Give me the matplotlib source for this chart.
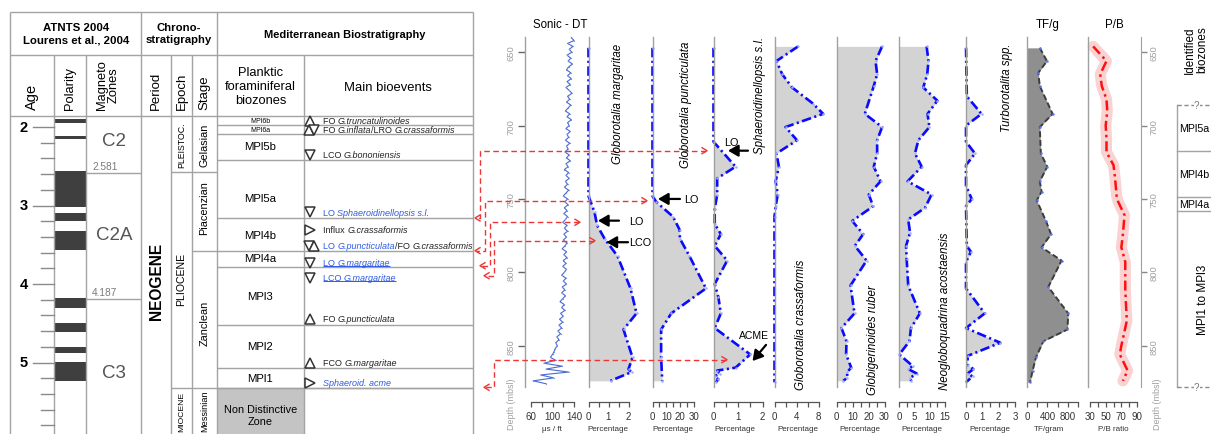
import matplotlib
matplotlib.use("Agg")
import matplotlib.pyplot as plt
from matplotlib.patches import Rectangle

plt.rcParams['font.family'] = ['Liberation Sans', 'DejaVu Sans']

# ------------------------------------------------------------------ data
age_ticks = [2.0, 2.2, 2.4, 2.6, 2.8, 3.0, 3.2, 3.4, 3.6, 3.8, 4.0, 4.2, 4.4,
             4.6, 4.8, 5.0, 5.2, 5.4, 5.6, 5.8]
age_labels = [2, 3, 4, 5]
polarity_normal = [(1.90, 1.945), (2.11, 2.153), (2.557, 3.015), (3.10, 3.194),
                   (3.329, 3.563), (4.178, 4.306), (4.497, 4.608), (4.799, 4.879),
                   (4.997, 5.232)]
chron_bounds = [2.581, 4.187]
chron_names = ['C2', 'C2A', 'C3']

biozones = ['MPl6b', 'MPl6a', 'MPl5b', 'MPl5a', 'MPl4b', 'MPl4a', 'MPl3', 'MPl2', 'MPl1']

sonic_depth = list(range(640, 877, 2))
sonic_dt = [135, 140, 128, 138, 131, 136, 127, 134, 129, 137,
            130, 126, 134, 128, 135, 127, 133, 125, 131, 136,
            128, 132, 126, 134, 129, 124, 132, 127, 135, 128,
            131, 125, 133, 127, 130, 124, 132, 126, 129, 123,
            131, 126, 133, 125, 129, 122, 130, 125, 131, 124,
            128, 122, 130, 125, 120, 128, 123, 129, 122, 127,
            121, 128, 124, 119, 127, 122, 128, 121, 126, 120,
            127, 123, 118, 126, 121, 127, 120, 125, 119, 126,
            122, 117, 125, 120, 126, 118, 123, 117, 124, 119,
            114, 122, 117, 123, 115, 120, 113, 119, 112, 117,
            110, 115, 108, 112, 106, 109, 105, 103, 100, 96,
            106, 84, 118, 88, 130, 78, 102, 64, 88]

marg_depth = [647, 748, 759, 768, 777, 789, 811, 828, 839, 858, 866, 868, 874]
marg_pct = [0, 0, 0.3, 0.43, 0.8, 1.45, 2.1, 2.4, 1.75, 2.2, 2.0, 2.15, 1.1]

punct_depth = [647, 748, 752, 762, 771, 777, 789, 811, 828, 839, 858, 874]
punct_pct = [0, 0, 2.7, 14.9, 19.8, 20, 27, 39, 13.7, 6.3, 6.3, 7.1]

sphaer_depth = [647, 711, 728, 736, 747, 757, 767, 774, 782, 792, 808, 817, 828,
                838, 856, 865, 867, 869, 871, 873, 875]
sphaer_pct = [0, 0, 0.9, 0.15, 0.15, 0.05, 0.05, 0.3, 0.05, 0.56, 0.05, 0.2, 0.3,
              0.05, 1.5, 0.9, 0.15, 0.25, 0.05, 0.2, 0.1]

crass_depth = [646, 656, 665, 674, 685, 692, 701, 710, 719, 728, 738, 747, 755, 762, 875]
crass_pct = [4.3, 0.36, 1.4, 3.2, 7.0, 8.85, 2.0, 4.1, 0.36, 0.8, 0.2, 0.6, 0.2, 0, 0]

ruber_depth = [646, 656, 665, 673, 692, 701, 710, 719, 728, 738, 747, 755, 765, 774,
               782, 792, 809, 828, 838, 847, 856, 865, 868, 872, 874]
ruber_pct = [28.5, 24.4, 25.4, 23.3, 17.7, 28.5, 25.4, 25.4, 23.3, 27.5, 20.2, 22.9,
             9.8, 16.7, 11.5, 18.8, 8.75, 11.25, 3.1, 6.25, 6.0, 9.2, 6.7, 6.7, 4.2]

acost_depth = [646, 656, 665, 674, 683, 692, 701, 710, 719, 728, 738, 747, 756, 764,
               773, 782, 791, 809, 828, 838, 847, 856, 864, 866, 869, 872, 874]
acost_pct = [9.0, 9.6, 9.2, 7.9, 12.5, 9.3, 9.9, 6.3, 5.2, 7.4, 2.8, 10.6, 8.5, 3.0,
             3.6, 2.3, 2.5, 3.0, 6.8, 3.9, 3.4, 0.1, 4.5, 3.0, 5.8, 3.6, 4.0]

turbo_depth = [647, 680, 692, 700, 711, 719, 727, 741, 750, 755, 782, 786, 793, 811,
               828, 838, 848, 857, 863, 866, 869, 871, 875]
turbo_pct = [0, 0.05, 0.95, 0, 0, 0.55, 0, 0, 0.35, 0, 0.05, 0.3, 0, 0,
             1.15, 0, 2.1, 0.1, 0.1, 0.45, 0.1, 0.4, 0]

tf_depth = [647, 656, 664, 673, 692, 701, 719, 728, 738, 745, 751, 765, 774, 783,
            792, 810, 828, 839, 847, 858, 867, 875]
tf_gram = [250, 390, 220, 250, 500, 250, 270, 395, 250, 285, 190, 370, 470, 285,
           675, 415, 805, 790, 320, 175, 110, 60]

pb_depth = [646, 656, 665, 673, 682, 690, 700, 709, 718, 727, 736, 748, 752, 761,
            774, 783, 793, 811, 823, 833, 850, 856, 867, 874]
pb_ratio = [34, 51, 43, 45, 51, 52, 50, 51, 51, 60, 62, 64, 66, 74, 72, 70, 75, 75,
            76, 77, 70, 68, 78, 72]

ident_bounds = [686, 717, 749, 758, 878]
ident_names = ['MPl5a', 'MPl4b', 'MPl4a', 'MPl1 to MPl3']

# -------------------------------------------------------------- geometry
W, H = 1211, 435
TOP, BOT = 38, 388
D_TOP, D_BOT = 639.6, 878.2
GRID = '#a3a3a3'
BLUE_TXT = '#2d5be3'


def age_y(a):
    return 128 + (a - 2.0) * 78.5


def dpx(d):
    return TOP + (d - D_TOP) * (BOT - TOP) / (D_BOT - D_TOP)


fig = plt.figure(figsize=(W / 100, H / 100), dpi=100)
bg = fig.add_axes([0, 0, 1, 1], zorder=0)
bg.set_xlim(0, W)
bg.set_ylim(H, 0)
bg.axis('off')


def hl(y, x0, x1, **kw):
    bg.plot([x0, x1], [y, y], color=kw.get('c', GRID), lw=kw.get('lw', 1),
            ls=kw.get('ls', '-'), solid_capstyle='butt')


def vl(x, y0, y1, **kw):
    bg.plot([x, x], [y0, y1], color=kw.get('c', GRID), lw=kw.get('lw', 1),
            solid_capstyle='butt')


# ------------------------------------------------------------------ table
hl(13, 10, 473)
hl(56, 10, 473)
hl(117, 10, 473)
for x in (10, 141, 217, 473):
    vl(x, 13, 435)
for x in (54, 86, 171, 192, 304):
    vl(x, 56, 435)

bg.text(76, 34, 'ATNTS 2004\nLourens et al., 2004', ha='center', va='center',
        fontsize=8.2, fontweight='bold', linespacing=1.35)
bg.text(179, 34, 'Chrono-\nstratigraphy', ha='center', va='center',
        fontsize=8.2, fontweight='bold', linespacing=1.35)
bg.text(345, 35, 'Mediterranean Biostratigraphy', ha='center', va='center',
        fontsize=7.9, fontweight='bold')

bg.text(32, 110, 'Age', rotation=90, ha='center', va='bottom', fontsize=10.5)
bg.text(70, 110, 'Polarity', rotation=90, ha='center', va='bottom', fontsize=9.3)
bg.text(108, 110, 'Magneto\nZones', rotation=90, ha='center', va='bottom',
        fontsize=9.3, linespacing=0.95)
bg.text(156, 110, 'Period', rotation=90, ha='center', va='bottom', fontsize=9.5)
bg.text(181.5, 110, 'Epoch', rotation=90, ha='center', va='bottom', fontsize=9.5)
bg.text(204.5, 110, 'Stage', rotation=90, ha='center', va='bottom', fontsize=9.5)
bg.text(260.5, 87, 'Planktic\nforaminiferal\nbiozones', ha='center', va='center',
        fontsize=9.3, linespacing=1.2)
bg.text(388, 88, 'Main bioevents', ha='center', va='center', fontsize=9.4)

# age scale
for a in age_ticks:
    major = abs(a - round(a)) < 1e-6
    bg.plot([33 if major else 41, 54], [age_y(a)] * 2, color='#8a8a8a', lw=1)
for a in age_labels:
    bg.text(24, age_y(a), str(a), ha='center', va='center', fontsize=10.5,
            fontweight='bold')

# polarity
for top, base in polarity_normal:
    y0 = max(age_y(top), 117)
    bg.add_patch(Rectangle((54, y0), 32, age_y(base) - y0, color='#3f3f3f', lw=0))

# magnetozones
for b in chron_bounds:
    hl(age_y(b), 86, 141)
    bg.text(92, age_y(b) - 2, f'{b:.3f}', ha='left', va='bottom', fontsize=7.3,
            color='#7a7a7a')
for name, y in zip(chron_names, (142, 236, 374)):
    bg.text(114, y, name, ha='center', va='center', fontsize=13.5, color='#555555')

# period / epoch / stage
bg.text(156, 281, 'NEOGENE', rotation=90, ha='center', va='center', fontsize=11.2,
        fontweight='bold')
hl(173, 171, 217)
hl(389, 171, 473)
hl(252, 192, 217)
bg.text(181.5, 145, 'PLEISTOC.', rotation=90, ha='center', va='center', fontsize=6.3)
bg.text(181.5, 279, 'PLIOCENE', rotation=90, ha='center', va='center', fontsize=7.6)
bg.text(181.5, 411.5, 'MIOCENE', rotation=90, ha='center', va='center', fontsize=6.1)
bg.text(204.5, 145, 'Gelasian', rotation=90, ha='center', va='center', fontsize=7.8)
bg.text(204.5, 208, 'Piacenzian', rotation=90, ha='center', va='center', fontsize=7.8)
bg.text(204.5, 323, 'Zanclean', rotation=90, ha='center', va='center', fontsize=7.8)
bg.text(204.5, 411.5, 'Messinian', rotation=90, ha='center', va='center', fontsize=6.6)

# biozones
zone_lines = [125.7, 135, 160.7, 219.3, 251.7, 268.3, 326, 369.3, 389.3]
for y in zone_lines:
    hl(y, 217, 473)
zone_centres = [121.5, 130.4, 147, 199.5, 236.5, 259.5, 297, 347, 379]
for name, y in zip(biozones, zone_centres):
    small = name in ('MPl6b', 'MPl6a')
    bg.text(260.5, y, name, ha='center', va='center',
            fontsize=5.0 if small else 8.2)
bg.add_patch(Rectangle((217, 389.3), 87, 46, color='#c4c4c4', lw=0, zorder=0.5))
bg.text(260.5, 416, 'Non Distinctive\nZone', ha='center', va='center', fontsize=7.8,
        linespacing=1.25)

# bioevents
renderer = fig.canvas.get_renderer()
K = '#222222'
events = [
    (121.7, [('^', 310)], [('FO ', 'normal', K), ('G.truncatulinoides', 'italic', K)]),
    (130.7, [('^', 308.5), ('v', 314)], [('FO ', 'normal', K), ('G.inflata', 'italic', K),
                                         ('/LRO ', 'normal', K), ('G.crassaformis', 'italic', K)]),
    (155.7, [('v', 310)], [('LCO ', 'normal', K), ('G.bononiensis', 'italic', K)]),
    (213.3, [('v', 310)], [('LO ', 'normal', BLUE_TXT),
                           ('Sphaeroidinellopsis s.l.', 'italic', BLUE_TXT)]),
    (231.0, [('>', 310)], [('Influx ', 'normal', K), ('G.crassaformis', 'italic', K)]),
    (246.7, [('v', 309), ('^', 314)], [('LO ', 'normal', BLUE_TXT),
                                       ('G.puncticulata', 'italic', BLUE_TXT),
                                       ('/FO ', 'normal', K), ('G.crassaformis', 'italic', K)]),
    (264.0, [('v', 310)], [('LO ', 'normal', BLUE_TXT), ('G.margaritae', 'italic', BLUE_TXT)]),
    (279.0, [('v', 310)], [('LCO ', 'normal', BLUE_TXT), ('G.margaritae', 'italic', BLUE_TXT)]),
    (320.0, [('^', 310)], [('FO ', 'normal', K), ('G.puncticulata', 'italic', K)]),
    (364.0, [('^', 310)], [('FCO ', 'normal', K), ('G.margaritae', 'italic', K)]),
    (384.0, [('>', 310)], [('Sphaeroid. acme', 'italic', BLUE_TXT)]),
]
for y, marks, pieces in events:
    for m, x in marks:
        bg.plot([x], [y], marker=m, ms=6.5, mfc='white', mec='#333333', mew=1.1)
    x = 323
    x_start = x
    for txt, style, col in pieces:
        t = bg.text(x, y, txt, fontsize=6.5, style=style, color=col, ha='left',
                    va='center')
        bb = t.get_window_extent(renderer=renderer)
        x += bb.width
    if y in (264.0, 279.0):
        hl(y + 3.3, x_start, x, c=BLUE_TXT, lw=0.7)


# --------------------------------------------------------------- panels
def make_panel(x0, w, v0, ppu, ticks, labels):
    ax = fig.add_axes([x0 / W, 1 - BOT / H, w / W, (BOT - TOP) / H], zorder=2)
    ax.set_ylim(D_BOT, D_TOP)
    ax.set_xlim(v0, v0 + w / ppu)
    ax.patch.set_visible(False)
    ax.spines['top'].set_visible(False)
    ax.spines['right'].set_visible(False)
    ax.spines['left'].set_color('#a0a0a0')
    ax.spines['left'].set_linewidth(1.0)
    ax.spines['bottom'].set_position(('outward', 11))
    ax.spines['bottom'].set_bounds(ticks[0], ticks[-1])
    ax.spines['bottom'].set_color('#555555')
    ax.spines['bottom'].set_linewidth(0.9)
    ax.set_xticks(ticks)
    ax.set_xticklabels(labels)
    ax.tick_params(axis='x', direction='out', length=3.5, width=0.9, color='#555555',
                   labelsize=7, labelcolor='#333333', pad=3)
    ax.set_yticks([])
    return ax


FILL = '#d3d3d3'
DASHDOT = (0, (3.6, 1.3, 0.8, 1.3))


def foram(ax, depth, vals):
    ax.fill_betweenx(depth, 0, vals, color=FILL, lw=0)
    ax.plot(vals, depth, color='#0a0aff', lw=1.9, ls=DASHDOT, marker='o', ms=1.8,
            mfc='#9db0ff', mec='none', clip_on=False)


ax_s = make_panel(525, 60, 48.8, 0.5375, [60, 80, 100, 120, 140],
                  ['60', '', '100', '', '140'])
ax_s.plot(sonic_dt, sonic_depth, color='#4a6ad0', lw=0.8, marker='o', ms=0.9,
          mfc='#7f96e0', mec='none', clip_on=False)
ax_s.set_yticks([650, 700, 750, 800, 850])
ax_s.tick_params(axis='y', length=5, width=1, color='#666666', labelsize=6.8,
                 labelcolor='#a0a0a0', labelrotation=90, pad=2)
for lab in ax_s.get_yticklabels():
    lab.set_va('center')

ax_m = make_panel(588.5, 60, 0, 20.0, [0, 0.5, 1, 1.5, 2], ['0', '', '1', '', '2'])
foram(ax_m, marg_depth, marg_pct)
ax_p = make_panel(652.5, 58, 0, 1.37, [0, 5, 10, 15, 20, 25, 30],
                  ['0', '', '10', '', '20', '', '30'])
foram(ax_p, punct_depth, punct_pct)
ax_sp = make_panel(713.5, 58, 0, 24.5, [0, 0.5, 1, 1.5, 2], ['0', '', '1', '', '2'])
foram(ax_sp, sphaer_depth, sphaer_pct)
ax_c = make_panel(774.5, 58, 0, 5.5, [0, 2, 4, 6, 8], ['0', '', '4', '', '8'])
foram(ax_c, crass_depth, crass_pct)
ax_r = make_panel(836.5, 58, 0, 1.6, [0, 5, 10, 15, 20, 25, 30],
                  ['0', '', '10', '', '20', '', '30'])
foram(ax_r, ruber_depth, ruber_pct)
ax_a = make_panel(899, 62, 0, 3.07, [0, 2.5, 5, 7.5, 10, 12.5, 15],
                  ['0', '', '5', '', '10', '', '15'])
foram(ax_a, acost_depth, acost_pct)
ax_t = make_panel(966, 58, 0, 16.33, [0, 0.5, 1, 1.5, 2, 2.5, 3],
                  ['0', '', '1', '', '2', '', '3'])
foram(ax_t, turbo_depth, turbo_pct)

ax_tf = make_panel(1027, 58, 0, 0.0512, [0, 200, 400, 600, 800, 1000],
                   ['0', '', '400', '', '800', ''])
ax_tf.fill_betweenx(tf_depth, 0, tf_gram, color='#8f8f8f', lw=0)
ax_tf.plot(tf_gram, tf_depth, color='#3c3c3c', lw=1.4, ls=(0, (3, 1.5)), marker='o',
           ms=1.8, mfc='#5a78ff', mec='none', clip_on=False)

ax_pb = make_panel(1088, 53, 27.4, 0.783, [30, 40, 50, 60, 70, 80, 90],
                   ['30', '', '50', '', '70', '', '90'])
ax_pb.plot(pb_ratio, pb_depth, color='#fbd2d2', lw=8, solid_capstyle='round',
           solid_joinstyle='round', clip_on=False)
ax_pb.plot(pb_ratio, pb_depth, color='#ff1010', lw=1.8, ls=(0, (4, 1.6, 1, 1.6)),
           clip_on=False)
ax_pb.spines['right'].set_visible(True)
ax_pb.spines['right'].set_color('#a0a0a0')
ax_pb.yaxis.tick_right()
ax_pb.set_yticks([650, 700, 750, 800, 850])
ax_pb.tick_params(axis='y', length=4, width=1, color='#888888', labelsize=6.8,
                  labelcolor='#a0a0a0', labelrotation=90, pad=2)
for lab in ax_pb.get_yticklabels():
    lab.set_va('center')

# identified biozones column
iz = fig.add_axes([1177 / W, 1 - BOT / H, 34 / W, (BOT - TOP) / H], zorder=2)
iz.set_ylim(D_BOT, D_TOP)
iz.set_xlim(0, 1)
iz.axis('off')
iz.plot([0, 0], [ident_bounds[0], ident_bounds[-1]], color=GRID, lw=1, clip_on=False)
for i, d in enumerate(ident_bounds):
    dashed = i in (0, len(ident_bounds) - 1)
    iz.plot([0, 1], [d, d], color='#8a8a8a' if dashed else GRID, lw=1,
            ls=(0, (3, 2)) if dashed else '-', clip_on=False)
    if dashed:
        iz.text(0.58, d, '?', ha='center', va='center', fontsize=7, color='#777777',
                bbox=dict(fc='white', ec='none', pad=0.3), clip_on=False)
for name, d0, d1 in zip(ident_names, ident_bounds[:-1], ident_bounds[1:]):
    if name.startswith('MPl1'):
        iz.text(0.76, (d0 + d1) / 2, name, rotation=90, ha='center', va='center',
                fontsize=8.5)
    else:
        iz.text(0.06, (d0 + d1) / 2, name, ha='left', va='center', fontsize=7.7,
                clip_on=False)

# ------------------------------------------------------- overlay texts
ov = fig.add_axes([0, 0, 1, 1], zorder=20)
ov.set_xlim(0, W)
ov.set_ylim(H, 0)
ov.axis('off')

ov.text(560, 25, 'Sonic - DT', ha='center', va='center', fontsize=8.3)
ov.text(1048, 25, 'TF/g', ha='center', va='center', fontsize=8.3)
ov.text(1114, 25, 'P/B', ha='center', va='center', fontsize=8.3)
ov.text(1196, 50, 'Identified\nbiozones', rotation=90, ha='center', va='center',
        fontsize=8.4, linespacing=1.0)

species = [
    (618, 104, 'Globorotalia margaritae'),
    (686.5, 105, 'Globorotalia puncticulata'),
    (760, 95, 'Sphaeroidinellopsis s.l.'),
    (801.5, 325, 'Globorotalia crassaformis'),
    (873, 340, 'Globigerinoides ruber'),
    (945, 311, 'Neogloboquadrina acostaensis'),
    (1007, 88, 'Turborotalita spp.'),
]
for x, y, name in species:
    ov.text(x, y, name, rotation=90, ha='center', va='center', fontsize=8.3,
            style='italic')

units = [(552, 'μs / ft'), (608, 'Percentage'), (673, 'Percentage'),
         (735, 'Percentage'), (798, 'Percentage'), (860, 'Percentage'),
         (922, 'Percentage'), (990, 'Percentage'), (1049, 'TF/gram'),
         (1113, 'P/B ratio')]
for x, u in units:
    ov.text(x, 429.5, u, ha='center', va='center', fontsize=5.8, color='#333333')
ov.text(511, 404, 'Depth (mbsl)', rotation=90, ha='center', va='center', fontsize=6.5,
        color='#a0a0a0')
ov.text(1158, 404, 'Depth (mbsl)', rotation=90, ha='center', va='center', fontsize=6.5,
        color='#a0a0a0')


def black_arrow(tip, tail):
    ov.annotate('', xy=tip, xytext=tail,
                arrowprops=dict(arrowstyle='-|>,head_length=0.55,head_width=0.32',
                                color='black', lw=1.6, shrinkA=0, shrinkB=0,
                                mutation_scale=11))


black_arrow((598, dpx(764.8)), (619, dpx(764.8)))
ov.text(629, dpx(764.8), 'LO', ha='left', va='center', fontsize=7.8)
black_arrow((606.5, dpx(779.5)), (628, dpx(779.5)))
ov.text(629, dpx(779.5), 'LCO', ha='left', va='center', fontsize=7.8)
black_arrow((658, dpx(750.0)), (680, dpx(750.0)))
ov.text(684, dpx(750.0), 'LO', ha='left', va='center', fontsize=7.8)
black_arrow((728, dpx(717.1)), (748, dpx(717.1)))
ov.text(731, dpx(717.1) - 9, 'LO', ha='center', va='center', fontsize=7.8)
black_arrow((752.5, dpx(860.5)), (766, dpx(849.5)))
ov.text(754, dpx(849.5) - 10, 'ACME', ha='center', va='center', fontsize=7.5)

# red dashed correlation lines
RED = '#ee3535'
links = [  # (depth in panel, right tip x, vertical x, table y, left tip x)
    (717.1, 707, 480, 219.0, 475),
    (751.2, 647, 485, 251.7, 475),
    (765.9, 580, 490, 266.7, 480),
    (778.5, 595, 493.5, 276.7, 484),
    (859.6, 727, 493.5, 388.3, 484),
]
for d, rtip, vx, ty, ltip in links:
    y = dpx(d)
    ov.plot([rtip - 1, vx, vx, ltip + 1], [y, y, ty, ty], color=RED, lw=1.0,
            ls=(0, (4, 2.5)))
    ov.plot([rtip - 5, rtip, rtip - 5], [y - 3, y, y + 3], color=RED, lw=1.0)
    ov.plot([ltip + 5, ltip, ltip + 5], [ty - 3, ty, ty + 3], color=RED, lw=1.0)

fig.savefig('out.png', dpi=100)
